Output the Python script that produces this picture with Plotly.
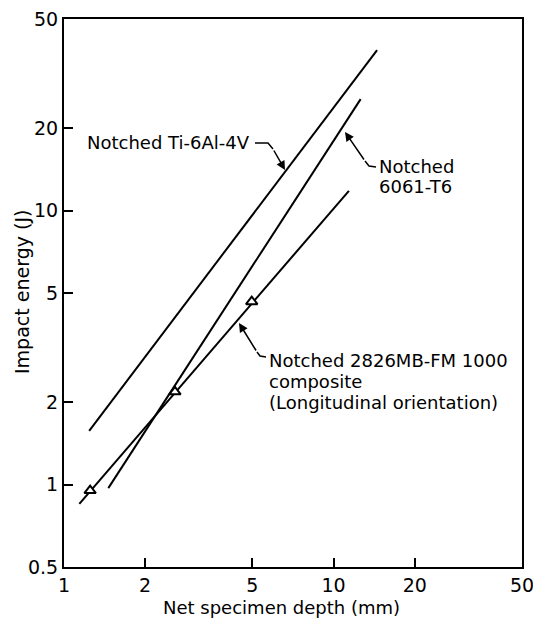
import numpy as np
import plotly.graph_objects as go

# ---- data ----
ti_x = [1.24, 14.5]
ti_y = [1.57, 38.5]
al_x = [1.46, 12.6]
al_y = [0.97, 25.5]
comp_x = [1.14, 11.4]
comp_y = [0.85, 11.8]
comp_pts_x = [1.25, 2.58, 4.97]
comp_pts_y = [0.95, 2.18, 4.65]

x_ticks = [1, 2, 5, 10, 20, 50]
x_ticktext = ["1", "2", "5", "10", "20", "50"]
y_ticks = [0.5, 1, 2, 5, 10, 20, 50]
y_ticktext = ["0.5", "1", "2", "5", "10", "20", "50"]

# ---- layout geometry ----
W, H = 533, 619
L, R, T, B = 64, 522, 19, 567
FONT = "DejaVu Sans"

def px(xp):
    return (xp - L) / (R - L)

def py(yp):
    return (B - yp) / (B - T)

fig = go.Figure()
line_style = dict(color="black", width=2)
fig.add_trace(go.Scatter(x=ti_x, y=ti_y, mode="lines", line=line_style, showlegend=False))
fig.add_trace(go.Scatter(x=al_x, y=al_y, mode="lines", line=line_style, showlegend=False))
fig.add_trace(go.Scatter(x=comp_x, y=comp_y, mode="lines", line=line_style, showlegend=False))
fig.add_trace(go.Scatter(x=comp_pts_x, y=comp_pts_y, mode="markers",
                         marker=dict(symbol="triangle-up", size=10, color="white",
                                     line=dict(color="black", width=2)),
                         showlegend=False))

annotations = []

def text(s, x, y, size=18, angle=0, xanchor="left"):
    annotations.append(dict(text=s, xref="paper", yref="paper", x=px(x), y=py(y),
                            xanchor=xanchor, yanchor="middle", showarrow=False,
                            textangle=angle,
                            font=dict(family=FONT, size=size, color="black")))

text("Notched Ti-6Al-4V", 85, 143)
text("Notched", 377, 166)
text("6061-T6", 377, 187)
text("Notched 2826MB-FM 1000", 267, 360)
text("composite", 267, 381)
text("(Longitudinal orientation)", 267, 402)
# axis titles
text("Impact energy (J)", 22, 292, size=19, angle=-90, xanchor="center")
text("Net specimen depth (mm)", 281, 607, size=18, xanchor="center")

def arrow(tipx, tipy, tailx, taily):
    annotations.append(dict(text="", xref="paper", yref="paper", x=px(tipx), y=py(tipy),
                            ax=tailx - tipx, ay=taily - tipy, showarrow=True,
                            arrowhead=2, arrowsize=1.2, arrowwidth=1.5, arrowcolor="black"))

arrow(285, 170, 273, 149)
arrow(345, 132, 365, 161)
arrow(239, 323, 257, 352)

shapes = []
def path(pts):
    d = "M " + " L ".join(f"{px(a):.5f},{py(b):.5f}" for a, b in pts)
    shapes.append(dict(type="path", xref="paper", yref="paper", path=d,
                       line=dict(color="black", width=1.5)))

path([(255, 143), (268, 143), (273, 149)])
path([(365, 161), (369, 166), (376, 167)])
path([(257, 352), (260, 356), (266, 357)])

axis_common = dict(showline=True, linecolor="black", linewidth=2, mirror=True,
                   ticks="inside", ticklen=9, tickwidth=1.5, tickcolor="black",
                   showgrid=False, zeroline=False, automargin=False,
                   ticklabeloverflow="allow",
                   tickfont=dict(family=FONT, size=19, color="black"))

fig.update_layout(
    width=W, height=H,
    margin=dict(l=L, r=W - R, t=T, b=H - B, pad=0),
    paper_bgcolor="white", plot_bgcolor="white",
    xaxis=dict(type="log", range=[0, np.log10(50)], tickvals=x_ticks, ticktext=x_ticktext,
               **axis_common),
    yaxis=dict(type="log", range=[np.log10(0.5), np.log10(50)], tickvals=y_ticks, ticktext=y_ticktext,
               **axis_common),
    annotations=annotations,
    shapes=shapes,
)

fig.write_html("out.html")
